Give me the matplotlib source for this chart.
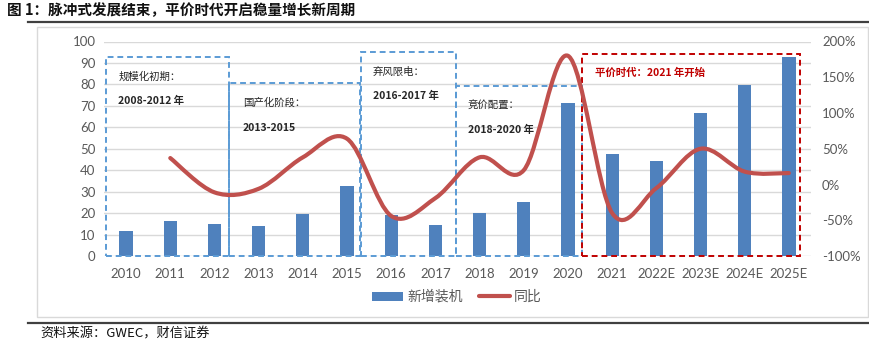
import matplotlib
matplotlib.use("Agg")
import matplotlib.pyplot as plt
from matplotlib.path import Path
from matplotlib.patches import PathPatch, Rectangle, Patch
from matplotlib.lines import Line2D
import numpy as np

plt.rcParams['font.family'] = ['Noto Sans CJK SC', 'DejaVu Sans']

# ---- data ----
years = ['2010', '2011', '2012', '2013', '2014', '2015', '2016', '2017',
         '2018', '2019', '2020', '2021', '2022E', '2023E', '2024E', '2025E']
new_install = [11.8, 16.2, 14.8, 14.0, 19.5, 32.6, 19.0, 14.6,
               20.2, 25.4, 71.5, 47.4, 44.2, 66.8, 79.9, 93.0]
yoy = [None, 37, -11, -6, 38, 64, -44, -19,
       38, 20, 180, -40, -5, 50, 18, 16]

left_ticks = list(range(0, 101, 10))
right_ticks = [-100, -50, 0, 50, 100, 150, 200]

# stage boxes: (x0, x1, y_top, colour)
stages = [(-0.46, 2.34, 93.0, '#5B9BD5'),
          (2.34, 5.29, 80.7, '#5B9BD5'),
          (5.32, 7.47, 94.9, '#5B9BD5'),
          (7.47, 10.31, 79.4, '#5B9BD5'),
          (10.31, 15.25, 94.4, '#C00000')]

W, H = 870, 344
fig = plt.figure(figsize=(W / 100, H / 100), dpi=100)


def fx(px):
    return px / W


def fy(py):
    return 1 - py / H


# title, rules and frame
fig.text(fx(7), fy(10.5), '图 1：脉冲式发展结束，平价时代开启稳量增长新周期',
         fontsize=10.5, fontweight='bold', color='#111111', va='center', ha='left')
fig.add_artist(Line2D([fx(28), fx(870)], [fy(21.5), fy(21.5)], color='#404040', lw=1.6))
fig.add_artist(Line2D([fx(28), fx(870)], [fy(322.5), fy(322.5)], color='#404040', lw=1.6))
fig.add_artist(Rectangle((fx(36.5), fy(316.5)), fx(868) - fx(36.5), fy(27) - fy(316.5),
                         transform=fig.transFigure, fill=False, ec='#D9D9D9', lw=1.0))
fig.text(fx(40), fy(334), '资料来源：GWEC，财信证券', fontsize=9.5, style='italic',
         color='#111111', va='center', ha='left')

ax = fig.add_axes([fx(104), fy(256), fx(811) - fx(104), fy(41.5) - fy(256)])
ax2 = ax.twinx()

x = np.arange(len(years))
ax.bar(x, new_install, width=0.30, color='#4F81BD', zorder=3)
ax.set_xlim(-0.5, len(years) - 0.5)
ax.set_ylim(0, 100)
ax.set_yticks(left_ticks)
ax.set_xticks(x)
ax.set_xticklabels(years)
ax.yaxis.grid(True, color='#D9D9D9', lw=1.0, zorder=0)
ax.set_axisbelow(True)
for sp in ax.spines.values():
    sp.set_visible(False)
for sp in ax2.spines.values():
    sp.set_visible(False)
ax.tick_params(length=0, colors='#595959', labelsize=9.5, pad=6)
ax.tick_params(axis='x', pad=9)
for lab in ax.get_xticklabels() + ax.get_yticklabels():
    lab.set_family('Lato')

ax2.set_ylim(-100, 200)
ax2.set_yticks(right_ticks)
ax2.set_yticklabels([f'{v}%' for v in right_ticks])
ax2.tick_params(length=0, colors='#595959', labelsize=9.5, pad=8)
for lab in ax2.get_yticklabels():
    lab.set_family('Lato')

# smoothed growth line (cubic Bezier through the points)
pts = [(xi, v) for xi, v in zip(x, yoy) if v is not None]
P = np.array(pts, dtype=float)
verts = [tuple(P[0])]
codes = [Path.MOVETO]
n = len(P)
for i in range(n - 1):
    p0 = P[i - 1] if i > 0 else P[i]
    p1 = P[i]
    p2 = P[i + 1]
    p3 = P[i + 2] if i + 2 < n else P[i + 1]
    c1 = p1 + (p2 - p0) / 6.0
    c2 = p2 - (p3 - p1) / 6.0
    verts += [tuple(c1), tuple(c2), tuple(p2)]
    codes += [Path.CURVE4] * 3
ax2.add_patch(PathPatch(Path(verts, codes), fill=False, ec='#C0504D', lw=3.0,
                        capstyle='round', joinstyle='round', zorder=5))

# stage boxes and captions
for x0, x1, top, col in stages:
    ax.add_patch(Rectangle((x0, 0), x1 - x0, top, fill=False, ec=col, lw=1.4,
                           ls=(0, (3, 2)), zorder=4, clip_on=False))


def dx(px):
    return (px - 126) / 44.2


def dy(py):
    return (256 - py) / 2.15


captions = [(118, 76, '规模化初期：', 'normal', '#262626'),
            (118, 101, '2008-2012 年', 'bold', '#262626'),
            (243, 102.5, '国产化阶段：', 'normal', '#262626'),
            (243, 127.5, '2013-2015', 'bold', '#262626'),
            (373, 71.5, '弃风限电：', 'normal', '#262626'),
            (373, 96, '2016-2017 年', 'bold', '#262626'),
            (468, 105, '竞价配置：', 'normal', '#262626'),
            (468, 129.5, '2018-2020 年', 'bold', '#262626'),
            (595, 72.5, '平价时代：2021 年开始', 'bold', '#C00000')]
for px, py, s, w, c in captions:
    ax.text(dx(px), dy(py), s, fontsize=7.5, fontweight=w, color=c,
            ha='left', va='center', zorder=6)

handles = [Patch(facecolor='#4F81BD', edgecolor='none'),
           Line2D([0], [0], color='#C0504D', lw=3.0, solid_capstyle='round')]
fig.legend(handles, ['新增装机', '同比'], loc='center', bbox_to_anchor=(fx(457), fy(297)),
           ncol=2, frameon=False, fontsize=10, labelcolor='#595959',
           handlelength=2.2, handleheight=0.6, handletextpad=0.3, columnspacing=1.2)

fig.savefig('out.png', dpi=100)
